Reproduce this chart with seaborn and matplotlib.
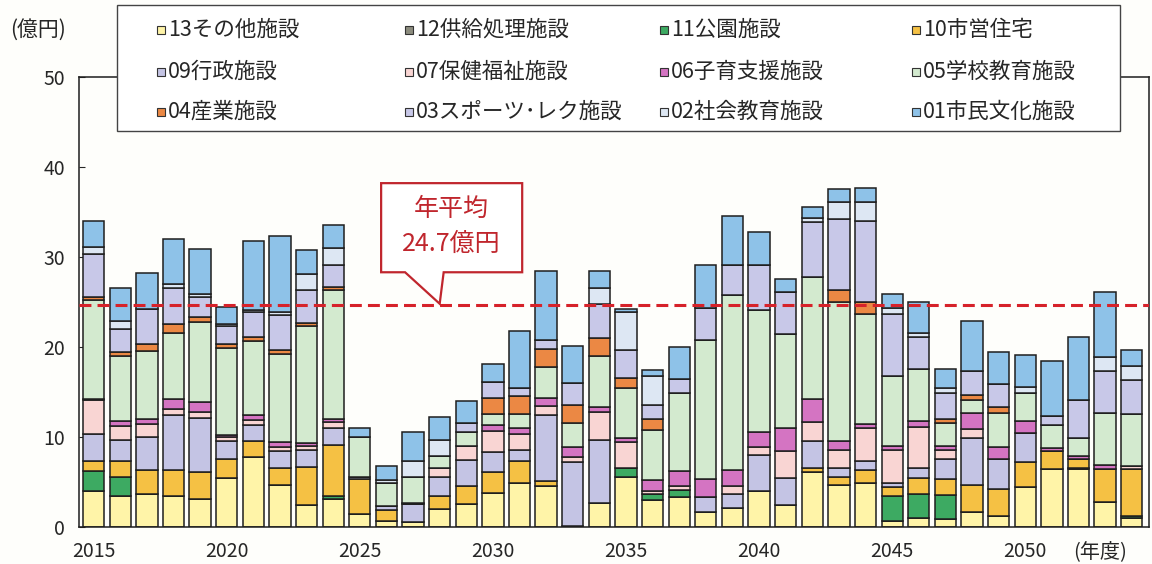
import numpy as np
import pandas as pd
import matplotlib
matplotlib.use("Agg")
import matplotlib.pyplot as plt
import seaborn as sns
from matplotlib.patches import Polygon, Rectangle

years = list(range(2015, 2055))

# 億円 per year (2015 ... 2054)
c13 = [4.0, 3.4, 3.7, 3.4, 3.1, 5.4, 7.8, 4.7, 2.4, 3.1,
       1.4, 0.7, 0.6, 2.0, 2.5, 3.8, 4.9, 4.6, 0.1, 2.7,
       5.6, 3.0, 3.3, 1.7, 2.1, 4.0, 2.4, 6.1, 4.7, 4.9,
       0.7, 1.0, 0.9, 1.7, 1.2, 4.4, 6.4, 6.4, 2.8, 1.0]
c12 = [0.0] * 40
c11 = [2.2, 2.2, 0, 0, 0, 0, 0, 0, 0, 0.3,
       0, 0, 0, 0, 0, 0, 0, 0, 0, 0,
       1.0, 0.7, 0.8, 0, 0, 0, 0, 0, 0, 0,
       2.7, 2.7, 2.6, 0, 0, 0, 0, 0.2, 0, 0.2]
c10 = [1.1, 1.7, 2.6, 2.9, 3.0, 2.2, 1.7, 1.8, 4.3, 5.7,
       3.9, 1.2, 0, 1.4, 2.1, 2.3, 2.4, 0.5, 0, 0,
       0, 0, 0, 0, 0, 0, 0, 0.5, 0.9, 1.4,
       1.0, 1.7, 1.8, 3.0, 3.0, 2.8, 2.0, 0.9, 3.6, 5.2]
c09 = [3.0, 2.4, 3.7, 6.1, 6.0, 1.9, 1.8, 1.9, 1.8, 1.9,
       0.2, 0.4, 2.0, 2.1, 2.8, 2.2, 1.3, 7.3, 7.1, 7.0,
       0, 0, 0, 1.6, 1.6, 4.0, 3.0, 2.9, 1.0, 1.0,
       0.5, 1.1, 2.2, 5.2, 3.4, 3.2, 0, 0, 0, 0]
c07 = [3.8, 1.5, 1.4, 0.7, 0.7, 0.5, 0.6, 0.5, 0.5, 0.7,
       0, 0, 0, 1.0, 1.6, 2.4, 1.7, 1.0, 0.6, 3.1,
       2.8, 0.3, 0.5, 0, 0.9, 0.9, 3.0, 2.2, 2.0, 3.7,
       3.7, 4.6, 1.0, 1.0, 0, 0, 0, 0, 0, 0.4]
c06 = [0.1, 0.6, 0.6, 1.1, 1.1, 0.2, 0.5, 0.5, 0.3, 0.3,
       0, 0, 0.1, 0, 0, 0.6, 0.7, 0.9, 1.1, 0.5,
       0.5, 1.2, 1.6, 2.0, 1.7, 1.6, 2.6, 2.5, 0.9, 0.4,
       0.4, 0.7, 0.5, 1.8, 1.3, 1.4, 0.4, 0.4, 0.5, 0]
c05 = [11.0, 7.2, 7.5, 7.4, 8.9, 9.7, 8.3, 9.8, 13.0, 14.3,
       4.5, 2.6, 2.8, 1.4, 1.6, 1.2, 1.6, 3.5, 2.7, 5.7,
       5.5, 5.6, 8.7, 15.5, 19.5, 13.6, 10.4, 13.6, 15.5, 12.3,
       7.8, 5.8, 2.5, 1.4, 3.8, 3.1, 2.5, 2.0, 5.8, 5.8]
c04 = [0.4, 0.4, 0.8, 1.0, 0.5, 0.4, 0.4, 0.5, 0.4, 0.4,
       0, 0, 0, 0, 0, 1.8, 1.9, 2.0, 2.0, 2.0,
       1.2, 1.2, 0, 0, 0, 0, 0, 0, 1.3, 1.3,
       0, 0, 0.5, 0.6, 0.6, 0, 0, 0, 0, 0]
c03 = [4.7, 2.6, 3.9, 4.0, 2.2, 2.0, 2.8, 3.9, 3.6, 2.4,
       0, 0, 0, 0, 1.0, 1.8, 0.9, 1.0, 2.4, 3.8,
       3.1, 1.5, 1.5, 3.5, 3.3, 5.0, 4.7, 6.1, 7.9, 9.0,
       6.9, 3.5, 2.9, 2.6, 2.6, 0, 1.0, 4.2, 4.6, 3.7]
c02 = [0.8, 0.9, 0, 0.4, 0.4, 0.3, 0.2, 0.3, 1.8, 1.9,
       0, 0.3, 1.8, 1.8, 0, 0, 0, 0, 0, 1.8,
       4.2, 3.3, 0, 0, 0, 0, 0, 0.4, 1.9, 2.1,
       0.6, 0.4, 0.5, 0, 0, 0.6, 0, 0, 1.6, 1.6]
c01 = [2.9, 3.6, 4.0, 5.0, 5.0, 1.8, 7.7, 8.4, 2.7, 2.6,
       1.0, 1.6, 3.2, 2.5, 2.4, 2.0, 6.4, 7.6, 4.1, 1.8,
       0.3, 0.6, 3.6, 4.8, 5.5, 3.7, 1.5, 1.3, 1.5, 1.6,
       1.6, 3.5, 2.1, 5.6, 3.5, 3.6, 6.1, 7.0, 7.2, 1.8]

avg_value = 24.7

# category name, values, colour (bottom of the stack first)
categories = [
    ("13その他施設", c13, "#FFF4A8"),
    ("12供給処理施設", c12, "#8C8C7E"),
    ("11公園施設", c11, "#3DAA62"),
    ("10市営住宅", c10, "#F5C144"),
    ("09行政施設", c09, "#C4C4E4"),
    ("07保健福祉施設", c07, "#F9D5D3"),
    ("06子育支援施設", c06, "#D474C2"),
    ("05学校教育施設", c05, "#D3EACF"),
    ("04産業施設", c04, "#EB8844"),
    ("03スポーツ･レク施設", c03, "#C8C8E8"),
    ("02社会教育施設", c02, "#DDE7F3"),
    ("01市民文化施設", c01, "#8EC2E8"),
]

rows = []
for name, vals, col in categories:
    for y, v in zip(years, vals):
        rows.append({"year": y, "cat": name, "value": v})
df = pd.DataFrame(rows)
palette = {name: col for name, vals, col in categories}
# histplot stacks the last hue level at the bottom
hue_order = [name for name, vals, col in categories][::-1]

sns.set_theme(style="white")
plt.rcParams["font.family"] = ["Noto Sans CJK JP", "DejaVu Sans"]

W, H = 1152, 564
fig = plt.figure(figsize=(W / 100, H / 100), dpi=100)
fig.patch.set_facecolor("#FEFEFB")
ax = fig.add_axes([0.0686, 0.0656, 0.9288, 0.798])
ax.set_facecolor("#FEFEFB")

sns.histplot(data=df, x="year", hue="cat", weights="value", multiple="stack",
             discrete=True, shrink=0.8, hue_order=hue_order, palette=palette,
             edgecolor="#1e1e1e", linewidth=1.1, alpha=1, legend=False, ax=ax)

# average line
ax.axhline(avg_value, color="#D6222A", lw=2.2, ls=(0, (3.9, 2.0)), zorder=5)

# callout box pointing at the line
callout = Polygon([(2025.8, 28.3), (2026.7, 28.3), (2028.0, avg_value + 0.1),
                   (2028.15, 28.3), (2031.1, 28.3), (2031.1, 38.2), (2025.8, 38.2)],
                  closed=True, facecolor="white", edgecolor="#C0262D", lw=1.6, zorder=6)
ax.add_patch(callout)
ax.text(2028.45, 35.3, "年平均", color="#C0262D", fontsize=18, ha="center", va="center", zorder=7)
ax.text(2028.45, 31.5, "24.7億円", color="#C0262D", fontsize=18, ha="center", va="center", zorder=7)

ax.set_xlim(2014.45, 2054.65)
ax.set_ylim(0, 50)
ax.set_xlabel("")
ax.set_ylabel("")
ax.set_xticks(range(2015, 2051, 5))
ax.set_xticks(np.arange(2014.5, 2055, 1), minor=True)
ax.set_yticks(range(0, 51, 10))
ax.tick_params(axis="x", which="major", length=0, pad=10, labelsize=14)
ax.tick_params(axis="x", which="minor", direction="in", length=3, width=0.8, color="#333")
ax.tick_params(axis="y", direction="in", length=4, width=0.8, pad=10, labelsize=14, left=True)
for s in ax.spines.values():
    s.set_color("#1e1e1e")
    s.set_linewidth(1.1)

ax.text(2052.8, -0.055, "(年度)", transform=ax.get_xaxis_transform(),
        ha="center", va="center", fontsize=14.5)
fig.text(38 / W, 1 - 30 / H, "(億円)", ha="center", va="center", fontsize=15)

# legend box drawn by hand: 3 rows x 4 columns with equal column spacing
fig.patches.append(Rectangle((117 / W, 1 - 131 / H), (1120 - 117) / W, 126 / H,
                             transform=fig.transFigure, facecolor="white",
                             edgecolor="#444", lw=1.0, zorder=8))
names = [name for name, vals, col in categories]
col_x = [157, 405, 660, 912]
row_y = [30, 72, 112]
msize = 8
for i, name in enumerate(names):
    r, c = divmod(i, 4)
    x0, y0 = col_x[c], row_y[r]
    fig.patches.append(Rectangle((x0 / W, 1 - (y0 + msize / 2) / H), msize / W, msize / H,
                                 transform=fig.transFigure, facecolor=palette[name],
                                 edgecolor="#333", lw=0.8, zorder=9))
    fig.text((x0 + msize + 3) / W, 1 - y0 / H, name, ha="left", va="center",
             fontsize=15.5, zorder=9)

fig.savefig("out.png", dpi=100, facecolor=fig.get_facecolor())
